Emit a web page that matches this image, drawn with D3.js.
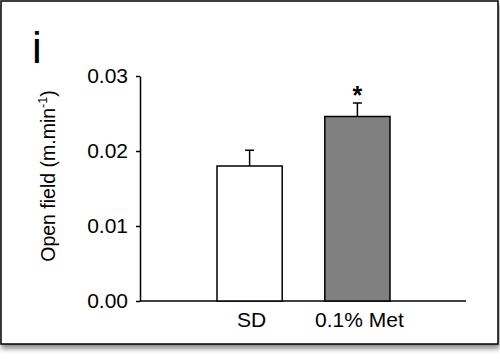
<!DOCTYPE html>
<html>
<head>
<meta charset="utf-8">
<script src="https://cdn.jsdelivr.net/npm/d3@7"></script>
<style>
  body { margin: 0; background: #fff; }
  text { font-family: Arial, "Liberation Sans", sans-serif; fill: #000; }
</style>
</head>
<body>
<svg id="chart" width="500" height="362"></svg>
<script>
// data
var groups = ["SD", "0.1% Met"];
var means = [0.0180, 0.0246];
var errors = [0.0021, 0.0018];
var fills = ["#ffffff", "#808080"];
var yTicks = [0, 0.01, 0.02, 0.03];
var sigMarks = ["", "*"];

var svg = d3.select("#chart");

// frame with a soft shadow
var defs = svg.append("defs");
var f = defs.append("filter").attr("id", "shadow")
  .attr("x", "-5%").attr("y", "-5%").attr("width", "115%").attr("height", "115%");
f.append("feDropShadow").attr("dx", 1).attr("dy", 4).attr("stdDeviation", 2.5)
  .attr("flood-color", "#000").attr("flood-opacity", 0.45);

svg.append("rect")
  .attr("x", 1).attr("y", 1).attr("width", 497).attr("height", 343)
  .attr("fill", "#fff").attr("stroke", "#000").attr("stroke-width", 1.5)
  .attr("filter", "url(#shadow)");

var yScale = d3.scaleLinear().domain([0, 0.03]).range([301, 76]);
var xScale = d3.scaleBand().domain(groups).range([217, 390])
  .paddingInner(0.395).paddingOuter(0);

// y axis
var yAxis = svg.append("g")
  .attr("transform", "translate(140,0)")
  .call(d3.axisLeft(yScale).tickValues(yTicks).tickFormat(d3.format(".2f"))
    .tickSize(4).tickSizeOuter(0).tickPadding(8));
yAxis.select(".domain").attr("stroke-width", 1.5);
yAxis.selectAll(".tick line").attr("stroke-width", 1.5);
yAxis.selectAll("text").attr("font-size", 21).attr("font-family", "Arial, 'Liberation Sans', sans-serif");

// x baseline
svg.append("line")
  .attr("x1", 140).attr("x2", 466)
  .attr("y1", yScale(0)).attr("y2", yScale(0))
  .attr("stroke", "#000").attr("stroke-width", 1.5);

// bars
svg.selectAll("rect.bar")
  .data(groups)
  .enter().append("rect")
  .attr("class", "bar")
  .attr("x", function(d) { return xScale(d); })
  .attr("y", function(d, i) { return yScale(means[i]); })
  .attr("width", xScale.bandwidth())
  .attr("height", function(d, i) { return yScale(0) - yScale(means[i]); })
  .attr("fill", function(d, i) { return fills[i]; })
  .attr("stroke", "#000").attr("stroke-width", 1.5);

// error bars (upper only)
var eb = svg.selectAll("g.err").data(groups).enter().append("g").attr("class", "err");
eb.append("line")
  .attr("x1", function(d) { return xScale(d) + xScale.bandwidth() / 2; })
  .attr("x2", function(d) { return xScale(d) + xScale.bandwidth() / 2; })
  .attr("y1", function(d, i) { return yScale(means[i]); })
  .attr("y2", function(d, i) { return yScale(means[i] + errors[i]); })
  .attr("stroke", "#000").attr("stroke-width", 1.5);
eb.append("line")
  .attr("x1", function(d) { return xScale(d) + xScale.bandwidth() / 2 - 4.5; })
  .attr("x2", function(d) { return xScale(d) + xScale.bandwidth() / 2 + 4.5; })
  .attr("y1", function(d, i) { return yScale(means[i] + errors[i]); })
  .attr("y2", function(d, i) { return yScale(means[i] + errors[i]); })
  .attr("stroke", "#000").attr("stroke-width", 1.5);

// significance star
svg.selectAll("text.sig").data(groups).enter().append("text")
  .attr("class", "sig")
  .attr("x", function(d) { return xScale(d) + xScale.bandwidth() / 2; })
  .attr("y", function(d, i) { return yScale(means[i] + errors[i]) + 1; })
  .attr("text-anchor", "middle")
  .attr("font-size", 25).attr("font-weight", "bold")
  .text(function(d, i) { return sigMarks[i]; });

// category labels
svg.selectAll("text.cat").data(groups).enter().append("text")
  .attr("class", "cat")
  .attr("x", function(d) { return xScale(d) + xScale.bandwidth() / 2 + 2; })
  .attr("y", 327)
  .attr("text-anchor", "middle")
  .attr("font-size", 21)
  .text(function(d) { return d; });

// y label
var yl = svg.append("text")
  .attr("transform", "translate(55,176) rotate(-90)")
  .attr("text-anchor", "middle")
  .attr("font-size", 19.5);
yl.append("tspan").text("Open field (m.min");
yl.append("tspan").attr("font-size", 12.5).attr("dy", -8).text("-1");
yl.append("tspan").attr("dy", 8).text(")");

// panel letter
svg.append("text")
  .attr("x", 32).attr("y", 63)
  .attr("font-size", 44)
  .text("i");
</script>
</body>
</html>
